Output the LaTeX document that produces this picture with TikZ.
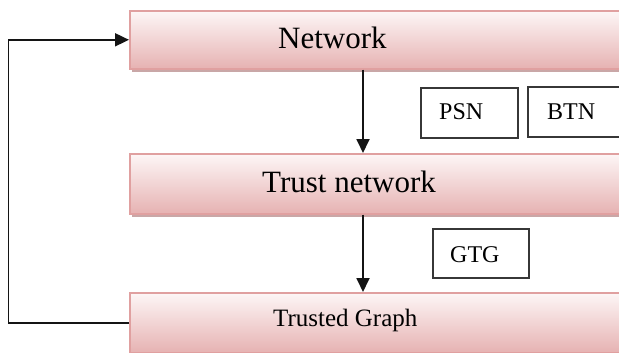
\documentclass[tikz,border=0pt]{standalone}
\usepackage{fontspec}
\setmainfont{Liberation Serif}
\usetikzlibrary{arrows.meta,shadows}
\definecolor{boxtop}{HTML}{FDF6F6}
\definecolor{boxbot}{HTML}{E6B2B2}
\definecolor{boxrim}{HTML}{E0A0A0}
\definecolor{boxshade}{HTML}{C09898}
\definecolor{ink}{HTML}{141414}
\tikzset{
  stage/.style={draw=boxrim, line width=1.6pt, top color=boxtop, bottom color=boxbot,
    minimum width=520pt, inner sep=0pt, anchor=north west,
    drop shadow={shadow xshift=2pt, shadow yshift=-3.5pt, fill=boxshade, opacity=0.85}},
  tag/.style={draw=ink!85, line width=2pt, fill=white, inner sep=0pt,
    minimum height=50pt, anchor=north west},
  lbl/.style={inner sep=0pt, anchor=base west, text=black},
  arr/.style={draw=ink, line width=1.8pt, -{Triangle[length=14pt,width=13pt]}}
}
\begin{document}
\begin{tikzpicture}[x=1pt,y=-1pt]
\useasboundingbox (0,0) rectangle (619,353);
\clip (0,0) rectangle (619,353);
\fill[white] (0,0) rectangle (619,353);

% the three stages
\node[stage, minimum height=58pt] (net) at (129,10) {};
\node[stage, minimum height=60pt] (trust) at (129,153) {};
\node[stage, minimum height=60pt] (graph) at (129,292) {};

\node[lbl, font=\fontsize{31}{31}\selectfont] (nettext) at (278,49) {Network};
\node[lbl, font=\fontsize{31}{31}\selectfont] (trusttext) at (262,192) {Trust network};
\node[lbl, font=\fontsize{25}{25}\selectfont] (graphtext) at (273,326) {Trusted Graph};

% method tags beside the arrows
\node[tag, minimum width=97pt] (psn) at (420,87) {};
\node[tag, minimum width=110pt] (btn) at (527,86) {};
\node[tag, minimum width=96pt, minimum height=49pt] (gtg) at (432,228) {};

\node[lbl, font=\fontsize{24}{24}\selectfont] (psntext) at (439,120) {PSN};
\node[lbl, font=\fontsize{24}{24}\selectfont] (btntext) at (547,119) {BTN};
\node[lbl, font=\fontsize{24}{24}\selectfont] (gtgtext) at (450,262) {GTG};

% flow between the stages
\coordinate (ax) at (363,0);
\draw[arr] (ax |- net.south) -- (ax |- trust.north);
\draw[arr] (ax |- trust.south) -- (ax |- graph.north);

% feedback loop back to the network
\coordinate (loop) at (8.5,0);
\draw[arr] (graph.west) -- (loop |- graph.west) -- (loop |- net.west) -- (net.west);
\end{tikzpicture}
\end{document}
